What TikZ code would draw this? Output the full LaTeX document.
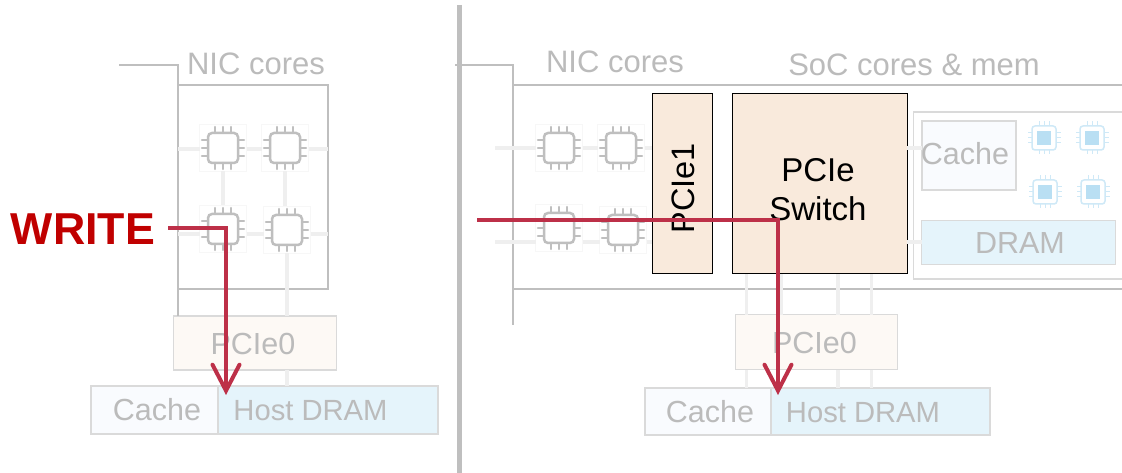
\documentclass[tikz,border=0pt]{standalone}
\usepackage{fontspec}
\setmainfont{Liberation Sans}
\usepackage{xcolor}
\usetikzlibrary{arrows.meta,calc}
\definecolor{wiregray}{HTML}{BFBFBF}
\definecolor{busgray}{HTML}{EFEFEF}
\definecolor{edgegray}{HTML}{DADADA}
\definecolor{labelgray}{HTML}{BBBBBB}
\definecolor{swfill}{HTML}{F9EADC}
\definecolor{pcifill}{HTML}{FDF9F5}
\definecolor{cachefill}{HTML}{F9FBFE}
\definecolor{dramfill}{HTML}{E5F4FB}
\definecolor{iceline}{HTML}{CFE9F7}
\definecolor{icefill}{HTML}{B9DFF3}
\definecolor{pathred}{HTML}{BD3048}
\definecolor{writered}{HTML}{C00000}
\tikzset{
  every node/.style={outer sep=0pt},
  wire/.style={draw=wiregray, line width=1.5pt},
  bus/.style={draw=busgray, line width=3.5pt},
  faint/.style={draw=edgegray, line width=1.3pt},
  lbl/.style={text=labelgray, anchor=base, inner sep=0pt, font=\fontsize{30.5}{36}\selectfont},
  lblwide/.style={lbl, font=\fontsize{31}{36}\selectfont},
  lblhost/.style={lbl, font=\fontsize{29.2}{36}\selectfont},
  blk/.style={draw=black, line width=1pt, fill=swfill, anchor=north west, inner sep=0pt},
  cell/.style={draw=black!3, line width=.6pt, fill=white, minimum size=47pt, inner sep=0pt},
  bcell/.style={draw=iceline, line width=1.5pt, fill=white, rounded corners=3pt, minimum size=24pt, inner sep=0pt},
  flow/.style={draw=pathred, line width=4pt, -{Straight Barb[length=26pt,width=27pt,line cap=round]}},
  cpu/.pic={
    \draw[wiregray, line width=2.5pt, rounded corners=4pt] (-15,-15) rectangle (15,15);
    \foreach \t in {-8,0,8}{
      \draw[wiregray, line width=2.3pt, line cap=round]
        (\t,-15) -- (\t,-21) (\t,15) -- (\t,21) (-15,\t) -- (-21,\t) (15,\t) -- (21,\t);
    }
  },
  bcpu/.pic={
    \fill[icefill] (-7,-7) rectangle (7,7);
    \foreach \t in {-5,0,5}{
      \draw[iceline, line width=1pt]
        (\t,-12) -- (\t,-16.5) (\t,12) -- (\t,16.5) (-12,\t) -- (-16.5,\t) (12,\t) -- (16.5,\t);
    }
  },
}
\begin{document}
\begin{tikzpicture}[x=1pt,y=-1pt]
  \useasboundingbox (0,0) rectangle (1122,473);
  % left half
  \node[anchor=north west, wire, minimum width=150pt, minimum height=204pt, inner sep=0pt] (nicl) at (178,85) {};
  \coordinate (wl) at (119,65);
  \node[faint, fill=pcifill, anchor=north west, minimum width=163pt, minimum height=54pt, inner sep=0pt] (pcil) at (173.5,316) {};
  \node[faint, fill=cachefill, anchor=north west, minimum width=127pt, minimum height=48pt, inner sep=0pt] (cachel) at (91,386) {};
  \node[faint, fill=dramfill, anchor=north west, minimum width=220pt, minimum height=48pt, inner sep=0pt] (dramL) at (218,386) {};
  \draw[wire] (wl) -| (nicl.north west);
  \draw[wire] (nicl.south west) -- (nicl.south west |- pcil.north);
  \foreach \nm/\px/\py in {ca/223/148, cb/285/148, cc/223/229, cd/287/230}{
    \node[cell] (\nm) at (\px,\py) {};
    \pic at (\nm) {cpu};
  }
  \draw[bus] ([yshift=-1pt]ca.west -| nicl.west) -- ([yshift=-1pt]ca.west);
  \draw[bus] ([yshift=-1pt]ca.east) -- ([yshift=-1pt]cb.west);
  \draw[bus] ([yshift=-1pt]cb.east) -- ([yshift=-1pt]cb.east -| nicl.east);
  \draw[bus] (ca.south) -- (cc.north);
  \draw[bus] (cb.south) -- (cb.south |- cd.north);
  \draw[bus] ([yshift=-5pt]cc.west) -- ([yshift=-5pt]cc.west -| nicl.west);
  \draw[bus] ([yshift=-5pt]cc.east) -- ([yshift=-4pt]cd.west);
  \draw[bus] ([yshift=-4pt]cd.east) -- ([yshift=-4pt]cd.east -| nicl.east);
  \draw[bus] (cd.south) -- (cd.south |- pcil.north);
  \draw[bus] (cd |- pcil.south) -- (cd |- dramL.north);
  \node[lblwide] (nicla) at (256,74.5) {NIC cores};
  \node[lbl] (pcila) at (253,354) {PCIe0};
  \node[lbl] (cachela) at (157,420.5) {Cache};
  \node[lblhost] (dramla) at (310.5,420.5) {Host DRAM};
  \node[anchor=base, inner sep=0pt, text=writered, font=\fontsize{44.7}{50}\selectfont\bfseries] (wrlabel) at (83,244) {WRITE};
  \coordinate (wls) at (168,228);
  \coordinate (wle) at (226,395);
  \draw[flow] (wls) -| (wle);
  % divider
  \coordinate (divt) at (459.5,5);
  \coordinate (divb) at (459.5,473);
  \draw[wiregray, line width=5pt] (divt) -- (divb);
  % right half
  \coordinate (wr) at (455,65);
  \coordinate (frt) at (513,85);
  \coordinate (frb) at (513,289);
  \coordinate (fre) at (513,325);
  \coordinate (ert) at (1122,85);
  \coordinate (erb) at (1122,289);
  \draw[wire] (wr) -| (fre);
  \draw[wire] (frt) -- (ert);
  \draw[wire] (frb) -- (erb);
  \foreach \nm/\px/\py in {ra/559/148, rb/621/148, rc/559/228, rd/623/230}{
    \node[cell] (\nm) at (\px,\py) {};
    \pic at (\nm) {cpu};
  }
  \node[blk, minimum width=60pt, minimum height=180pt] (pcione) at (652,93.5) {};
  \node[blk, minimum width=175pt, minimum height=180pt] (pcisw) at (732,93.5) {};
  \node[faint, fill=white, anchor=north west, minimum width=215pt, minimum height=167pt, inner sep=0pt] (socbox) at (913.5,112) {};
  \node[faint, fill=cachefill, anchor=north west, minimum width=94pt, minimum height=69pt, inner sep=0pt] (cacher) at (922,121) {};
  \node[faint, fill=dramfill, anchor=north west, minimum width=194pt, minimum height=44pt, inner sep=0pt] (dramr) at (921.5,220.5) {};
  \node[faint, fill=pcifill, anchor=north west, minimum width=162pt, minimum height=55pt, inner sep=0pt] (pcir) at (735.5,314.5) {};
  \node[faint, fill=cachefill, anchor=north west, minimum width=126pt, minimum height=47pt, inner sep=0pt] (cachehr) at (645,388) {};
  \node[faint, fill=dramfill, anchor=north west, minimum width=219pt, minimum height=47pt, inner sep=0pt] (dramhr) at (771,388) {};
  \coordinate (bl) at (495,148);
  \coordinate (bm) at (495,242);
  \draw[bus] (bl) -- (bl -| ra.west);
  \draw[bus] (bl -| ra.east) -- (bl -| rb.west);
  \draw[bus] (bl -| rb.east) -- (bl -| pcione.west);
  \draw[bus] (bm) -- (bm -| rc.west);
  \draw[bus] (bm -| rc.east) -- (bm -| rd.west);
  \draw[bus] (bm -| rd.east) -- (bm -| pcione.west);
  \draw[bus] (bl -| pcisw.east) -- (bl -| cacher.west);
  \draw[bus] (bm -| pcisw.east) -- (bm -| dramr.west);
  \foreach \bx in {746.7,781,838,871.5}{
    \coordinate (bt) at (\bx,274);
    \draw[bus] (bt) -- (bt |- pcir.north);
  }
  \foreach \bx in {746.7,838,871.5}{
    \coordinate (bt) at (\bx,370);
    \draw[bus] (bt) -- (bt |- cachehr.north);
  }
  \foreach \nm/\px/\py in {sa/1044/138, sb/1092/138, sc/1045/192, sd/1093/192}{
    \node[bcell] (\nm) at (\px,\py) {};
    \pic at (\nm) {bcpu};
  }
  \node[lblwide] (nicra) at (615,72.5) {NIC cores};
  \node[lblwide] (socla) at (914,76) {SoC cores \& mem};
  \node[lbl] (cachera) at (965,165) {Cache};
  \node[lbl] (dramra) at (1020,254) {DRAM};
  \node[lbl] (pcira) at (814.5,353.5) {PCIe0};
  \node[lbl] (cachhrla) at (710,422.5) {Cache};
  \node[lblhost] (dramhrla) at (863,422.5) {Host DRAM};
  \node[lbl, text=black, font=\fontsize{32.5}{36}\selectfont, rotate=90] (pcionela) at (694,188.5) {PCIe1};
  \node[lbl, text=black, font=\fontsize{33}{39}\selectfont, anchor=center, align=center] (pciswla) at (818,190) {PCIe\\Switch};
  \coordinate (wrs) at (477,220.5);
  \coordinate (wre) at (778,395);
  \draw[flow] (wrs) -| (wre);
\end{tikzpicture}
\end{document}
